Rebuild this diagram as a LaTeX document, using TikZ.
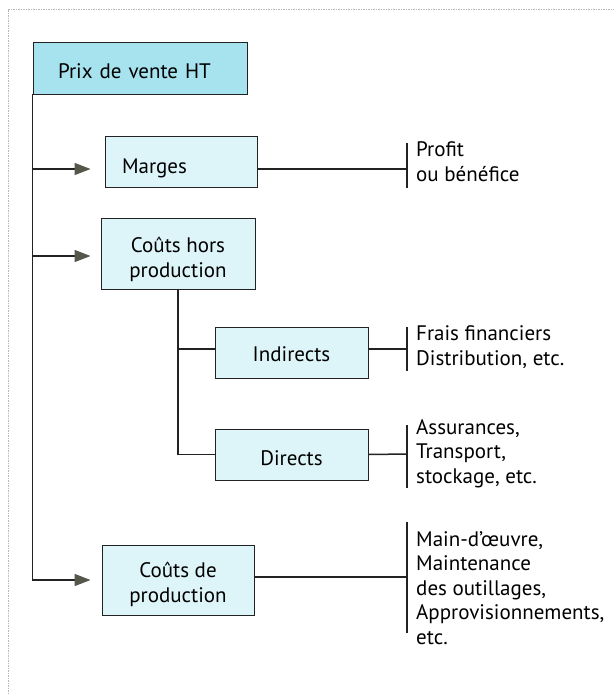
\documentclass[tikz,border=0pt]{standalone}
\usepackage{fontspec}
\setmainfont{PT Sans}
\usetikzlibrary{arrows.meta,positioning,calc}
\definecolor{headfill}{HTML}{A6E3EF}
\definecolor{boxfill}{HTML}{DDF5F9}
\definecolor{tipfill}{HTML}{56574A}
\definecolor{inkline}{HTML}{222222}
\definecolor{framegray}{HTML}{B8B8B8}
\tikzset{
  cost/.style={rectangle, draw=inkline, line width=0.9pt, fill=boxfill, minimum width=153pt, minimum height=51pt, align=center, font=\fontsize{21}{24.5}\selectfont, inner sep=2pt, text depth=0pt},
  head/.style={cost, fill=headfill, minimum width=214pt, minimum height=52pt},
  detail/.style={anchor=base west, align=left, font=\fontsize{21}{24.5}\selectfont, inner sep=0pt},
  feed/.style={-{Triangle[length=16pt,width=12pt,color=tipfill]}, line width=1.5pt, draw=inkline},
  link/.style={line width=1.5pt, draw=inkline},
  bar/.style={line width=1.7pt, draw=inkline},
  frame/.style={draw=framegray, line width=0.6pt, dash pattern=on 1.5pt off 1pt},
}
\begin{document}
\begin{tikzpicture}[x=1pt,y=-1pt]
  \useasboundingbox (0,0) rectangle (614,694);
  \draw[frame] (8,694) -- (8,9) -- (614,9);
  % boxes
  \node[head, text width=164pt, align=left, inner xsep=25pt, text height=20pt] (prix) at (140,68) {Prix de vente HT};
  \node[cost, minimum width=152pt, text width=118pt, align=left, inner xsep=17pt, text height=23pt] (marges) at (181,161.5) {Marges};
  \node[cost, minimum width=154pt, minimum height=71pt, text height=47pt] (hors) at (178,253.5) {Coûts hors\\production};
  \node[cost, text height=17pt] (indirects) at (291.5,352.5) {Indirects};
  \node[cost, text height=21pt] (directs) at (291.5,454.5) {Directs};
  \node[cost, minimum width=152pt, minimum height=70pt, text height=44pt] (prod) at (178,580) {Coûts de\\production};
  % spine and arrows
  \draw[feed] (prix.south west) |- ($(prod.west)+(-11,0)$);
  \draw[feed] (prix.south west |- {$(marges.west)+(0,7.5)$}) -- ($(marges.west)+(-14,7.5)$);
  \draw[feed] (prix.south west |- {$(hors.west)+(0,2.5)$}) -- ($(hors.west)+(-10,2.5)$);
  \draw[link] (hors.south) |- ($(indirects.west)+(0,-3.5)$);
  \draw[link] (hors.south) |- (directs.west);
  % brackets
  \coordinate (bprofit) at (407,169);
  \coordinate (bfrais) at (407,349);
  \coordinate (bassur) at (407,454);
  \coordinate (bmain) at (407,577);
  \draw[bar] (407,143) -- (407,188);
  \draw[bar] (407,327) -- (407,371);
  \draw[bar] (407,425) -- (407,488);
  \draw[bar] (407,522) -- (407,633);
  \draw[link] ($(marges.east)+(0,7.5)$) -- (bprofit);
  \draw[link] ($(indirects.east)+(0,-3.5)$) -- (bfrais);
  \draw[link] (directs.east) -- (bassur);
  \draw[link] ($(prod.east)+(0,-3)$) -- (bmain);
  % details (base = last line)
  \node[detail] (profit) at (416,181) {Profit\\ou bénéfice};
  \node[detail] (frais) at (416,365) {Frais financiers\\Distribution, etc.};
  \node[detail] (assur) at (416,483) {Assurances,\\Transport,\\stockage, etc.};
  \node[detail] (main) at (416,644) {Main-d'œuvre,\\Maintenance\\des outillages,\\Approvisionnements,\\etc.};
\end{tikzpicture}
\end{document}
